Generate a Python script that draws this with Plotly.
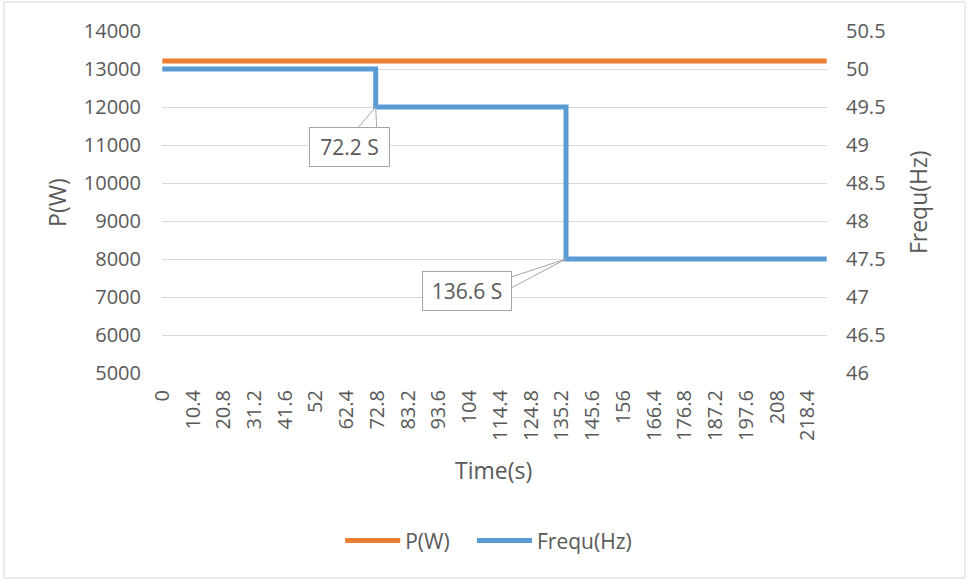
import plotly.graph_objects as go

# ---- data ----
power_time = [0, 224.8]
power_w = [13210, 13210]

freq_time = [0, 72.2, 136.6, 224.8]
freq_hz = [50.0, 49.5, 47.5, 47.5]

x_tickvals = [0, 10.4, 20.8, 31.2, 41.6, 52, 62.4, 72.8, 83.2, 93.6, 104, 114.4,
              124.8, 135.2, 145.6, 156, 166.4, 176.8, 187.2, 197.6, 208, 218.4]
x_ticktext = ["0", "10.4", "20.8", "31.2", "41.6", "52", "62.4", "72.8", "83.2", "93.6",
              "104", "114.4", "124.8", "135.2", "145.6", "156", "166.4", "176.8",
              "187.2", "197.6", "208", "218.4"]

y2_tickvals = [46, 46.5, 47, 47.5, 48, 48.5, 49, 49.5, 50, 50.5]
y2_ticktext = ["46", "46.5", "47", "47.5", "48", "48.5", "49", "49.5", "50", "50.5"]

callout_times = [72.2, 136.6]
callout_freqs = [49.5, 47.5]
callout_texts = ["72.2 S", "136.6 S"]

FONT = "Open Sans"
TXT = "#595959"
GRID = "#D9D9D9"
ORANGE = "#ED7D31"
BLUE = "#5B9BD5"

fig = go.Figure()
fig.add_trace(go.Scatter(x=power_time, y=power_w, name="P(W)", mode="lines",
                         line=dict(color=ORANGE, width=5), yaxis="y", legend="legend"))
fig.add_trace(go.Scatter(x=freq_time, y=freq_hz, name="Frequ(Hz)", mode="lines",
                         line=dict(color=BLUE, width=5, shape="hv"), yaxis="y2",
                         legend="legend2"))

# callouts: wedge + box
wedges = ["M -18,-21 L 0,0 L 1,-21 Z", "M -55,-18 L 0,0 L -55,-29 Z"]
offsets = [(-26.5, 40), (-99, 32)]
sizes = [(77, 36), (86, 36)]
for t, f, txt, wp, (ax, ay), (w, h) in zip(callout_times, callout_freqs, callout_texts,
                                             wedges, offsets, sizes):
    fig.add_shape(type="path", xref="x", yref="y2", xsizemode="pixel", ysizemode="pixel",
                  xanchor=t, yanchor=f, path=wp, fillcolor="white",
                  line=dict(color="#A6A6A6", width=1), layer="above")
    fig.add_annotation(x=t, y=f, xref="x", yref="y2", text=txt, showarrow=True,
                       arrowcolor="rgba(0,0,0,0)", ax=ax, ay=ay, width=w, height=h,
                       bgcolor="white", bordercolor="#A6A6A6", borderwidth=1,
                       font=dict(family=FONT, size=21, color=TXT))

# axis titles
fig.add_annotation(text="P(W)", xref="paper", yref="paper", x=-0.158, y=0.5,
                   xanchor="center", yanchor="middle",
                   textangle=-90, showarrow=False, font=dict(family=FONT, size=23, color=TXT))
fig.add_annotation(text="Frequ(Hz)", xref="paper", yref="paper", x=1.137, y=0.5,
                   xanchor="center", yanchor="middle",
                   textangle=-90, showarrow=False, font=dict(family=FONT, size=23, color=TXT))
fig.add_annotation(text="Time(s)", xref="paper", yref="paper", x=0.498, y=-0.284,
                   xanchor="center", yanchor="middle",
                   showarrow=False, font=dict(family=FONT, size=23, color=TXT))

# outer chart border
fig.add_shape(type="rect", xref="paper", yref="paper", x0=-0.2376, x1=1.2075,
              y0=-0.5994, y1=1.0848, line=dict(color="#D9D9D9", width=1),
              fillcolor="rgba(0,0,0,0)", layer="below")

legend_style = dict(orientation="h", xanchor="left", y=-0.491, yanchor="middle",
                    font=dict(family=FONT, size=21, color=TXT), itemwidth=55,
                    bgcolor="rgba(0,0,0,0)")

fig.update_layout(
    width=969, height=585,
    margin=dict(l=162, r=142, t=31, b=212),
    paper_bgcolor="white", plot_bgcolor="white",
    font=dict(family=FONT, size=20, color=TXT),
    showlegend=True,
    legend=dict(x=0.268, **legend_style),
    legend2=dict(x=0.4662, **legend_style),
    xaxis=dict(range=[-0.1, 224.9], tickmode="array", tickvals=x_tickvals,
               ticktext=x_ticktext, tickangle=-90, showgrid=False, zeroline=False,
               showline=False, ticks="", ticklabelstandoff=12,
               tickfont=dict(size=20, color=TXT)),
    yaxis=dict(range=[5000, 14000], dtick=1000, tick0=5000, tickformat="d", showgrid=True,
               gridcolor=GRID, gridwidth=1, zeroline=False, showline=False,
               ticklabelstandoff=20, tickfont=dict(size=20, color=TXT)),
    yaxis2=dict(range=[46, 50.5], tickmode="array", tickvals=y2_tickvals,
                ticktext=y2_ticktext, overlaying="y", side="right",
                showgrid=False, zeroline=False, showline=False, ticklabelstandoff=18,
                tickfont=dict(size=20, color=TXT)),
)

fig.write_html("out.html")
